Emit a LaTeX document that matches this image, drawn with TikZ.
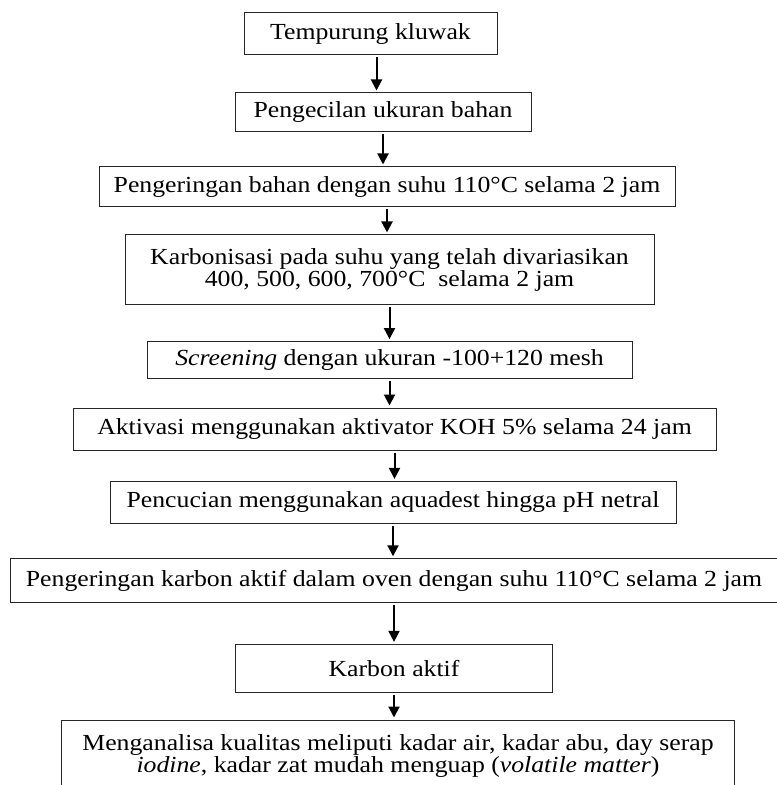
\documentclass[tikz,border=0pt]{standalone}
\usepackage{fontspec}
\setmainfont{Liberation Serif}[FakeStretch=1.12]
\usepackage{tikz}
\usetikzlibrary{positioning, arrows.meta}

\begin{document}
\begin{tikzpicture}[x=0.5pt, y=-0.5pt,
    proc/.style={draw=black!85, line width=0.5pt, inner xsep=2pt, inner ysep=1pt,
      align=center, font=\fontsize{11.5}{11.2}\selectfont},
    arr/.style={-{Triangle[length=5.5pt, width=5.5pt]}, line width=1pt,
      shorten <=1pt, shorten >=1pt}]
  \useasboundingbox (0,0) rectangle (776,785);
  % Nodes
  \node[proc, minimum width=126.5pt, minimum height=21pt] (b1) at (370.5,34) {Tempurung kluwak};
  \node[proc, minimum width=148pt, minimum height=19.5pt] (b2) [below=18.5pt of b1, xshift=6.25pt] {Pengecilan ukuran bahan};
  \node[proc, minimum width=288pt, minimum height=20pt] (b3) [below=17pt of b2, xshift=2pt] {Pengeringan bahan dengan suhu 110°C selama 2 jam};
  \node[proc, minimum width=264.5pt, minimum height=35pt] (b4) [below=13.5pt of b3, xshift=1.25pt] {Karbonisasi pada suhu yang telah divariasikan\\400, 500, 600, 700°C\ \ selama 2 jam};
  \node[proc, minimum width=242.5pt, minimum height=18.5pt] (b5) [below=17.8pt of b4] {\textit{Screening} dengan ukuran -100+120 mesh};
  \node[proc, minimum width=321.5pt, minimum height=21pt] (b6) [below=14.2pt of b5, xshift=2.5pt] {Aktivasi menggunakan aktivator KOH 5\% selama 24 jam};
  \node[proc, minimum width=283pt, minimum height=21pt] (b7) [below=15.2pt of b6, xshift=-0.75pt] {Pencucian menggunakan aquadest hingga pH netral};
  \node[proc, minimum width=384pt, minimum height=22pt] (b8) [below=17.2pt of b7, xshift=0.5pt] {Pengeringan karbon aktif dalam oven dengan suhu 110°C selama 2 jam};
  \node[proc, minimum width=158.5pt, minimum height=24pt] (b9) [below=20.3pt of b8] {Karbon aktif};
  \node[proc, minimum width=336.5pt, minimum height=36pt] (b10) [below=13.3pt of b9, xshift=2pt] {Menganalisa kualitas meliputi kadar air, kadar abu, day serap\\\textit{iodine}, kadar zat mudah menguap (\textit{volatile matter})};
  % Arrows
  \path[arr]
    ([xshift=3pt]b1.south) edge ([xshift=3pt]b1.south |- b2.north)
    (b2.south) edge (b2.south |- b3.north)
    (b3.south) edge (b3.south |- b4.north)
    (b4.south) edge (b4.south |- b5.north)
    (b5.south) edge (b5.south |- b6.north)
    (b6.south) edge (b6.south |- b7.north)
    (b7.south) edge (b7.south |- b8.north)
    (b8.south) edge (b8.south |- b9.north)
    (b9.south) edge (b9.south |- b10.north);
\end{tikzpicture}
\end{document}
